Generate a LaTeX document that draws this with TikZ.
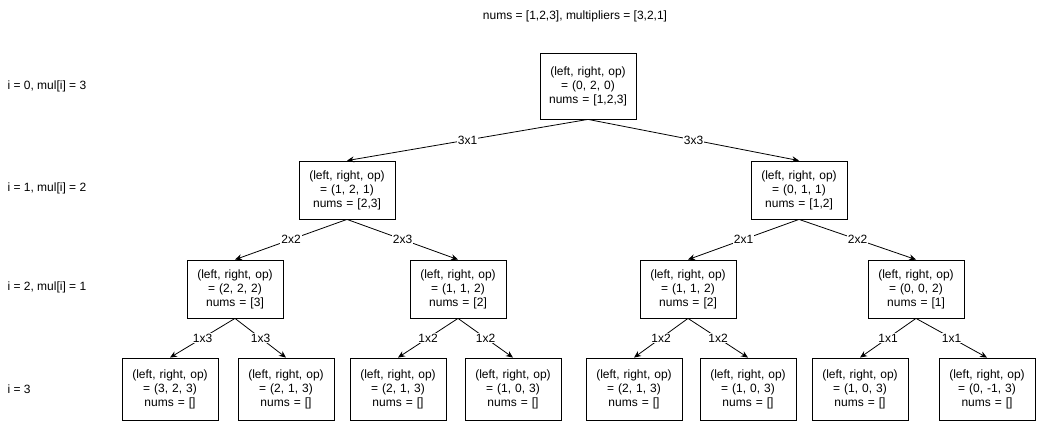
\documentclass[tikz,border=0pt]{standalone}
\usepackage{fontspec}
\setmainfont{Liberation Sans}
\usetikzlibrary{arrows.meta}

\tikzset{
  state/.style={draw, thick, align=center, inner sep=2pt, minimum height=58pt, text width=92pt, font=\fontsize{12}{14}\selectfont},
  move/.style={-{Stealth[length=7pt,width=6pt]}, thick},
  lab/.style={fill=white, inner sep=1pt, font=\fontsize{12}{14}\selectfont},
  lev/.style={anchor=west, font=\fontsize{12}{14}\selectfont}
}

\begin{document}
\begin{tikzpicture}[x=1pt, y=-1pt]
\useasboundingbox (0,0) rectangle (1039,422);

\node[font=\fontsize{12}{14}\selectfont] (title) at (575,16) {nums = [1,2,3], multipliers = [3,2,1]};

% levels
\node[lev] (l0) at (4,86) {i = 0, mul[i] = 3};
\node[lev] (l1) at (4,188) {i = 1, mul[i] = 2};
\node[lev] (l2) at (4,287) {i = 2, mul[i] = 1};
\node[lev] (l3) at (4,389) {i = 3};

% states
\node[state, minimum height=66pt] (r) at (588,86) {(left, right, op)\\= (0, 2, 0)\\nums = [1,2,3]};
\node[state] (a) at (347,190) {(left, right, op)\\= (1, 2, 1)\\nums = [2,3]};
\node[state] (b) at (799,190) {(left, right, op)\\= (0, 1, 1)\\nums = [1,2]};
\node[state] (aa) at (235,289) {(left, right, op)\\= (2, 2, 2)\\nums = [3]};
\node[state] (ab) at (458,289) {(left, right, op)\\= (1, 1, 2)\\nums = [2]};
\node[state] (ba) at (688,289) {(left, right, op)\\= (1, 1, 2)\\nums = [2]};
\node[state] (bb) at (916,289) {(left, right, op)\\= (0, 0, 2)\\nums = [1]};
\node[state, minimum height=62pt] (aaa) at (170,389) {(left, right, op)\\= (3, 2, 3)\\nums = []};
\node[state, minimum height=62pt] (aab) at (286,389) {(left, right, op)\\= (2, 1, 3)\\nums = []};
\node[state, minimum height=62pt] (aba) at (398,389) {(left, right, op)\\= (2, 1, 3)\\nums = []};
\node[state, minimum height=62pt] (abb) at (513,389) {(left, right, op)\\= (1, 0, 3)\\nums = []};
\node[state, minimum height=62pt] (baa) at (634,389) {(left, right, op)\\= (2, 1, 3)\\nums = []};
\node[state, minimum height=62pt] (bab) at (748,389) {(left, right, op)\\= (1, 0, 3)\\nums = []};
\node[state, minimum height=62pt] (bba) at (860,389) {(left, right, op)\\= (1, 0, 3)\\nums = []};
\node[state, minimum height=62pt] (bbb) at (987,389) {(left, right, op)\\= (0, -1, 3)\\nums = []};

% moves
\draw[move] (r.south) -- node[lab] {3x1} (a.north);
\draw[move] (r.south) -- node[lab] {3x3} (b.north);
\draw[move] (a.south) -- node[lab] {2x2} (aa.north);
\draw[move] (a.south) -- node[lab] {2x3} (ab.north);
\draw[move] (b.south) -- node[lab] {2x1} (ba.north);
\draw[move] (b.south) -- node[lab] {2x2} (bb.north);
\draw[move] (aa.south) -- node[lab] {1x3} (aaa.north);
\draw[move] (aa.south) -- node[lab] {1x3} (aab.north);
\draw[move] (ab.south) -- node[lab] {1x2} (aba.north);
\draw[move] (ab.south) -- node[lab] {1x2} (abb.north);
\draw[move] (ba.south) -- node[lab] {1x2} (baa.north);
\draw[move] (ba.south) -- node[lab] {1x2} (bab.north);
\draw[move] (bb.south) -- node[lab] {1x1} (bba.north);
\draw[move] (bb.south) -- node[lab] {1x1} (bbb.north);
\end{tikzpicture}
\end{document}
